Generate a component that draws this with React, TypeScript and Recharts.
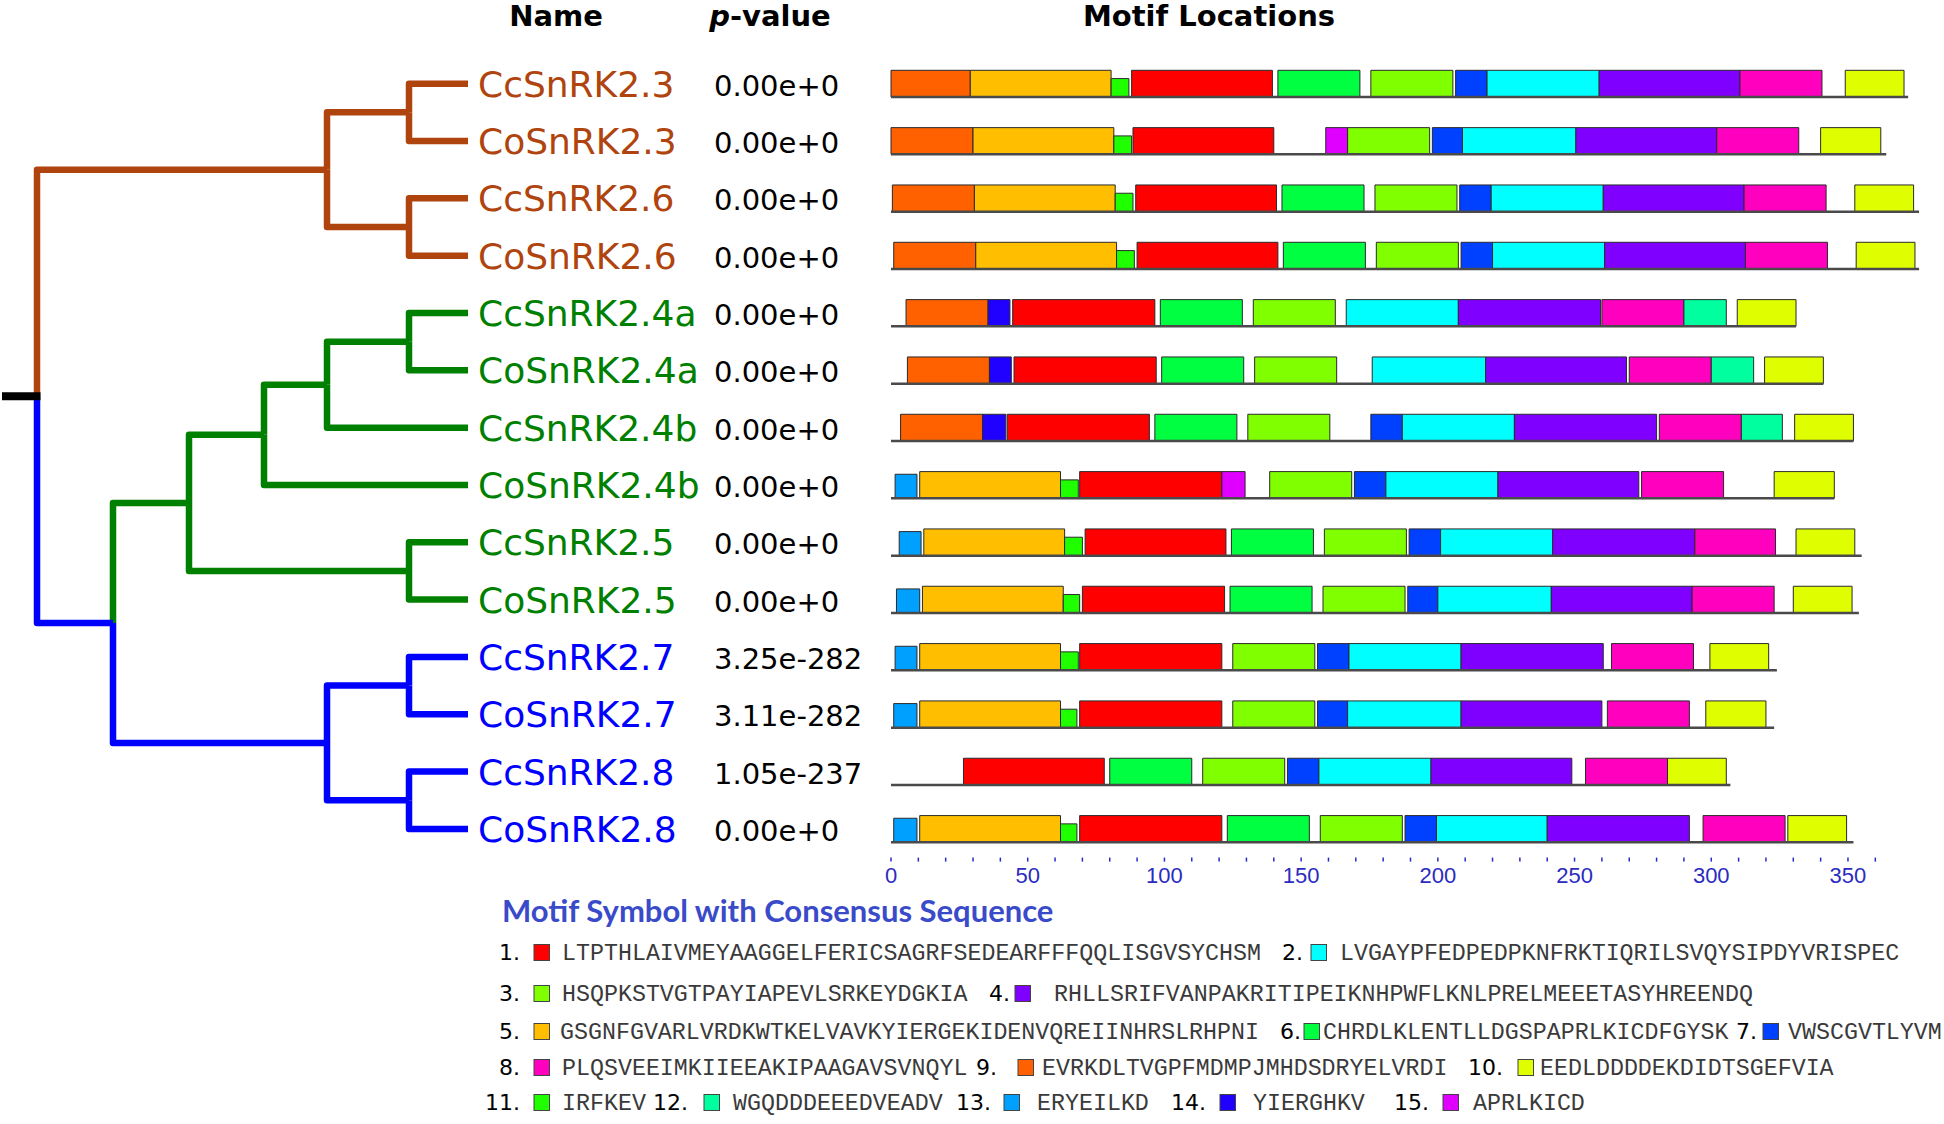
import React from "react";
import { ComposedChart, Line, ReferenceArea, XAxis, YAxis } from "recharts";

// sequences, top to bottom
const names = [
  "CcSnRK2.3", "CoSnRK2.3", "CcSnRK2.6", "CoSnRK2.6",
  "CcSnRK2.4a", "CoSnRK2.4a", "CcSnRK2.4b", "CoSnRK2.4b",
  "CcSnRK2.5", "CoSnRK2.5", "CcSnRK2.7", "CoSnRK2.7",
  "CcSnRK2.8", "CoSnRK2.8",
];
const pValues = [
  "0.00e+0", "0.00e+0", "0.00e+0", "0.00e+0", "0.00e+0", "0.00e+0", "0.00e+0",
  "0.00e+0", "0.00e+0", "0.00e+0", "3.25e-282", "3.11e-282", "1.05e-237", "0.00e+0",
];
const cladeOf = [0, 0, 0, 0, 1, 1, 1, 1, 1, 1, 2, 2, 2, 2];
const seqLengths = [372, 364, 376, 376, 331, 341, 352, 345, 355, 354, 324, 323, 307, 352];
const rowIndex = [0, 1, 2, 3, 4, 5, 6, 7, 8, 9, 10, 11, 12, 13];

// motif sites per sequence: [motif, start, end]
const sites = [
  [[9, 0, 29], [5, 29, 80.5], [11, 80.5, 87], [1, 88, 139.5], [6, 141.5, 171.5], [3, 175.5, 205.5], [7, 206.5, 218], [2, 218, 259], [4, 259, 310.5], [8, 310.5, 340.5], [10, 349, 370.5]],
  [[9, 0, 30], [5, 30, 81.5], [11, 81.5, 88], [1, 88.5, 140], [15, 159, 167], [3, 167, 197], [7, 198, 209], [2, 209, 250.5], [4, 250.5, 302], [8, 302, 332], [10, 340, 362]],
  [[9, 0.5, 30.5], [5, 30.5, 82], [11, 82, 88.5], [1, 89.5, 141], [6, 143, 173], [3, 177, 207], [7, 208, 219.5], [2, 219.5, 260.5], [4, 260.5, 312], [8, 312, 342], [10, 352.5, 374]],
  [[9, 1, 31], [5, 31, 82.5], [11, 82.5, 89], [1, 90, 141.5], [6, 143.5, 173.5], [3, 177.5, 207.5], [7, 208.5, 220], [2, 220, 261], [4, 261, 312.5], [8, 312.5, 342.5], [10, 353, 374.5]],
  [[9, 5.5, 35.5], [14, 35.5, 43.5], [1, 44.5, 96.5], [6, 98.5, 128.5], [3, 132.5, 162.5], [2, 166.5, 207.5], [4, 207.5, 259.5], [8, 260, 290], [12, 290, 305.5], [10, 309.5, 331]],
  [[9, 6, 36], [14, 36, 44], [1, 45, 97], [6, 99, 129], [3, 133, 163], [2, 176, 217.5], [4, 217.5, 269], [8, 270, 300], [12, 300, 315.5], [10, 319.5, 341]],
  [[9, 3.5, 33.5], [14, 33.5, 42], [1, 42.5, 94.5], [6, 96.5, 126.5], [3, 130.5, 160.5], [7, 175.5, 187], [2, 187, 228], [4, 228, 280], [8, 281, 311], [12, 311, 326], [10, 330.5, 352]],
  [[13, 1.5, 9.5], [5, 10.5, 62], [11, 62, 68.5], [1, 69, 121], [15, 121, 129.5], [3, 138.5, 168.5], [7, 169.5, 181], [2, 181, 222], [4, 222, 273.5], [8, 274.5, 304.5], [10, 323, 345]],
  [[13, 3, 11], [5, 12, 63.5], [11, 63.5, 70], [1, 71, 122.5], [6, 124.5, 154.5], [3, 158.5, 188.5], [7, 189.5, 201], [2, 201, 242], [4, 242, 294], [8, 294, 323.5], [10, 331, 352.5]],
  [[13, 2, 10.5], [5, 11.5, 63], [11, 63, 69], [1, 70, 122], [6, 124, 154], [3, 158, 188], [7, 189, 200], [2, 200, 241.5], [4, 241.5, 293], [8, 293, 323], [10, 330, 351.5]],
  [[13, 1.5, 9.5], [5, 10.5, 62], [11, 62, 68.5], [1, 69, 121], [3, 125, 155], [7, 156, 167.5], [2, 167.5, 208.5], [4, 208.5, 260.5], [8, 263.5, 293.5], [10, 299.5, 321]],
  [[13, 1, 9.5], [5, 10.5, 62], [11, 62, 68], [1, 69, 121], [3, 125, 155], [7, 156, 167], [2, 167, 208.5], [4, 208.5, 260], [8, 262, 292], [10, 298, 320]],
  [[1, 26.5, 78], [6, 80, 110], [3, 114, 144], [7, 145, 156.5], [2, 156.5, 197.5], [4, 197.5, 249], [8, 254, 284], [10, 284, 305.5]],
  [[13, 1, 9.5], [5, 10.5, 62], [11, 62, 68], [1, 69, 121], [6, 123, 153], [3, 157, 187], [7, 188, 199.5], [2, 199.5, 240], [4, 240, 292], [8, 297, 327], [10, 328, 349.5]],
];

// motifs 1..15
const motifColors = [
  "#FF0000", "#00FFFF", "#80FF00", "#8000FF", "#FFBF00", "#00FF40", "#0040FF", "#FF00BF",
  "#FF6000", "#DFFF00", "#20FF00", "#00FF9F", "#00A0FF", "#2000FF", "#DF00FF",
];
const motifHeights = [1, 1, 1, 1, 1, 1, 1, 1, 1, 1, 0.69, 1, 0.9, 1, 1];
const motifSeqs = [
  "LTPTHLAIVMEYAAGGELFERICSAGRFSEDEARFFFQQLISGVSYCHSM",
  "LVGAYPFEDPEDPKNFRKTIQRILSVQYSIPDYVRISPEC",
  "HSQPKSTVGTPAYIAPEVLSRKEYDGKIA",
  "RHLLSRIFVANPAKRITIPEIKNHPWFLKNLPRELMEEETASYHREENDQ",
  "GSGNFGVARLVRDKWTKELVAVKYIERGEKIDENVQREIINHRSLRHPNI",
  "CHRDLKLENTLLDGSPAPRLKICDFGYSK",
  "VWSCGVTLYVM",
  "PLQSVEEIMKIIEEAKIPAAGAVSVNQYL",
  "EVRKDLTVGPFMDMPJMHDSDRYELVRDI",
  "EEDLDDDDEKDIDTSGEFVIA",
  "IRFKEV",
  "WGQDDDEEEDVEADV",
  "ERYEILKD",
  "YIERGHKV",
  "APRLKICD",
];

const axisTicks = [0, 10, 20, 30, 40, 50, 60, 70, 80, 90, 100, 110, 120, 130, 140, 150, 160, 170, 180, 190, 200, 210, 220, 230, 240, 250, 260, 270, 280, 290, 300, 310, 320, 330, 340, 350, 360];

// cladogram: [id, depth, childA, childB, clade]; numbers are leaf rows
const leafDepth = 46.8;
const treeNodes = [
  ["n23", 40.9, 0, 1, 0],
  ["n26", 40.9, 2, 3, 0],
  ["nBrown", 32.7, "n23", "n26", 0],
  ["n4a", 40.9, 4, 5, 1],
  ["n4ab", 32.7, "n4a", 6, 1],
  ["n4", 26.4, "n4ab", 7, 1],
  ["n25", 40.9, 8, 9, 1],
  ["nGreen", 18.9, "n4", "n25", 1],
  ["n27", 40.9, 10, 11, 2],
  ["n28", 40.9, 12, 13, 2],
  ["nBlue", 32.7, "n27", "n28", 2],
  ["nGB", 11.3, "nGreen", "nBlue", 2],
  ["root", 3.7, "nBrown", "nGB", 3],
];

const cladeColors = ["#B0440E", "#008000", "#0000FF", "#000000"];
const axisBlue = "#2B2BC0";

// legend placement: [motif, line, number right edge, square x, sequence x]
const legendLayout = [
  [1, 0, 520, 534, 562], [2, 0, 1303, 1311, 1340],
  [3, 1, 520, 534, 562], [4, 1, 1010, 1015, 1054],
  [5, 2, 520, 534, 560], [6, 2, 1301, 1304, 1323], [7, 2, 1757, 1763, 1788],
  [8, 3, 520, 534, 562], [9, 3, 997, 1018, 1042], [10, 3, 1503, 1518, 1540],
  [11, 4, 520, 534, 562], [12, 4, 688, 704, 733], [13, 4, 991, 1004, 1037], [14, 4, 1206, 1220, 1253], [15, 4, 1429, 1443, 1473],
];
const legendBaselines = [960, 1001, 1039, 1075, 1110];

const CHART_H = 900;
const MARGIN_TOP = 55;
const HALF_BAR = 0.233;

function buildTree() {
  const pos: Record<string, { x: number; y: number; clade: number }> = {};
  const get = (c: any) =>
    typeof c === "number" ? { x: leafDepth, y: c, clade: cladeOf[c] } : pos[c];
  const edges: any[] = [];
  treeNodes.forEach(([id, depth, a, b, clade]: any) => {
    const ca = get(a);
    const cb = get(b);
    pos[id] = { x: depth, y: (ca.y + cb.y) / 2, clade };
    [ca, cb].forEach((c) => {
      edges.push({
        color: cladeColors[c.clade],
        width: 6.5,
        pts: [
          { x: depth, y: pos[id].y },
          { x: depth, y: c.y },
          { x: c.x, y: c.y },
        ],
      });
    });
  });
  const root = pos["root"];
  edges.push({ color: "#000000", width: 8, pts: [{ x: 0.2, y: root.y }, { x: root.x + 0.35, y: root.y }] });
  return edges;
}

const treeEdges = buildTree();

function NameTick(props: any) {
  const i = props.payload.value;
  return (
    <text
      x={props.x}
      y={props.y + 13}
      textAnchor="start"
      fill={cladeColors[cladeOf[i]]}
      fontFamily="DejaVu Sans"
      fontSize={36}
    >
      {names[i]}
    </text>
  );
}

function PTick(props: any) {
  const i = props.payload.value;
  return (
    <text x={14} y={props.y + 12} textAnchor="start" fill="#000" fontFamily="DejaVu Sans" fontSize={29}>
      {pValues[i]}
    </text>
  );
}

function TreeChart() {
  return (
    <ComposedChart width={720} height={CHART_H} margin={{ top: MARGIN_TOP, right: 0, bottom: 42.4, left: 0 }}>
      <XAxis type="number" dataKey="x" domain={[0, leafDepth]} allowDataOverflow hide />
      <YAxis
        type="number"
        orientation="right"
        domain={[-0.5, 13.5]}
        allowDataOverflow
        reversed
        ticks={rowIndex}
        interval={0}
        width={252}
        axisLine={false}
        tickLine={false}
        tickSize={0}
        tickMargin={10}
        tick={NameTick}
      />
      {treeEdges.map((e, k) => (
        <Line
          key={k}
          data={e.pts}
          dataKey="y"
          type="linear"
          stroke={e.color}
          strokeWidth={e.width}
          strokeLinejoin="round"
          dot={false}
          activeDot={false}
          isAnimationActive={false}
        />
      ))}
    </ComposedChart>
  );
}

function MotifChart() {
  return (
    <ComposedChart width={1244} height={CHART_H} margin={{ top: MARGIN_TOP, right: 14, bottom: 2.4, left: 0 }}>
      <XAxis
        type="number"
        dataKey="x"
        domain={[0, 380]}
        allowDataOverflow
        ticks={axisTicks}
        interval={0}
        height={40}
        axisLine={false}
        tickSize={4}
        tickMargin={6}
        tickLine={{ stroke: axisBlue, strokeWidth: 1.5 }}
        tick={{ fill: axisBlue, fontSize: 22, fontFamily: "Liberation Sans" }}
        tickFormatter={(v: number) => (v % 50 === 0 ? String(v) : "")}
      />
      <YAxis
        type="number"
        domain={[-0.5, 13.5]}
        allowDataOverflow
        reversed
        ticks={rowIndex}
        interval={0}
        width={191}
        axisLine={false}
        tickLine={false}
        tick={PTick}
      />
      {seqLengths.map((len, r) => (
        <Line
          key={`bb${r}`}
          data={[{ x: 0, y: r + HALF_BAR }, { x: len, y: r + HALF_BAR }]}
          dataKey="y"
          stroke="#4a4a4a"
          strokeWidth={2.5}
          dot={false}
          activeDot={false}
          isAnimationActive={false}
        />
      ))}
      {sites.map((row, r) =>
        row.map(([m, s, e], k) => {
          const bottom = r + HALF_BAR;
          const top = bottom - 2 * HALF_BAR * motifHeights[m - 1];
          return (
            <ReferenceArea
              key={`m${r}-${k}`}
              x1={s}
              x2={e}
              y1={top}
              y2={bottom}
              fill={motifColors[m - 1]}
              fillOpacity={1}
              stroke="#2a2a2a"
              strokeWidth={1}
              ifOverflow="visible"
            />
          );
        })
      )}
    </ComposedChart>
  );
}

function Overlay() {
  return (
    <svg width={1944} height={1124} style={{ position: "absolute", left: 0, top: 0 }}>
      <g fontFamily="DejaVu Sans" fontWeight="bold" fontSize={29} fill="#000">
        <text x={556} y={26} textAnchor="middle">Name</text>
        <text x={770} y={26} textAnchor="middle">
          <tspan fontStyle="italic">p</tspan>-value
        </text>
        <text x={1209} y={26} textAnchor="middle">Motif Locations</text>
      </g>
      <text x={502} y={922} fontFamily="Lato" fontWeight="bold" fontSize={31} fill="#3A4BC9">
        Motif Symbol with Consensus Sequence
      </text>
      {legendLayout.map(([m, line, numX, sqX, seqX]) => {
        const base = legendBaselines[line];
        return (
          <g key={m}>
            <text x={numX} y={base} textAnchor="end" fontFamily="DejaVu Sans" fontSize={22} fill="#000">
              {`${m}.`}
            </text>
            <rect x={sqX} y={base - 15.5} width={15.5} height={16} fill={motifColors[m - 1]} stroke="#444" strokeWidth={1} />
            <text x={seqX} y={base} fontFamily="Liberation Mono" fontSize={23.3} fill="#3a3a3a">
              {motifSeqs[m - 1]}
            </text>
          </g>
        );
      })}
    </svg>
  );
}

export default function App() {
  return (
    <div style={{ position: "absolute", left: 0, top: 0, width: 1944, height: 1124, background: "#fff", overflow: "hidden" }}>
      <Overlay />
      <div style={{ position: "absolute", left: 0, top: 0 }}>
        <TreeChart />
      </div>
      <div style={{ position: "absolute", left: 700, top: 0 }}>
        <MotifChart />
      </div>
    </div>
  );
}
